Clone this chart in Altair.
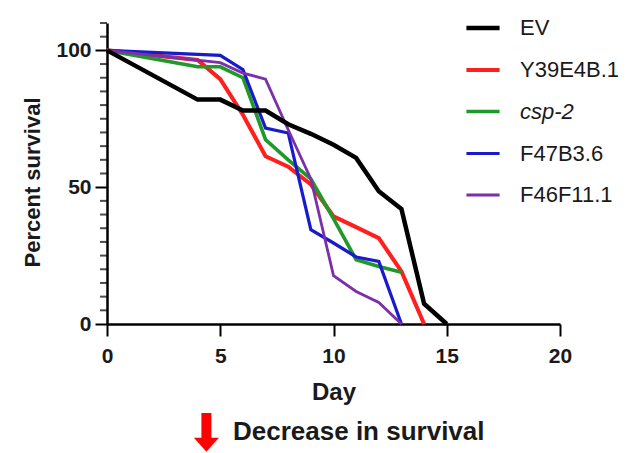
import altair as alt
import pandas as pd

series = ["EV", "Y39E4B.1", "csp-2", "F47B3.6", "F46F11.1"]
colors = ["#000000", "#ff1f1f", "#1f9a2a", "#1a1acd", "#7b2fa8"]
widths = [4.5, 2.8, 2.8, 2.8, 2.8]

ev_days = [0, 4, 5, 6, 7, 8, 9, 10, 11, 12, 13, 14, 15]
ev_vals = [100, 82, 82, 78, 78, 73, 69.5, 65.5, 60.7, 48.5, 42, 7.4, 0]

y39_days = [0, 4, 5, 6, 7, 8, 9, 10, 11, 12, 13, 14]
y39_vals = [100, 96.5, 89.5, 76.5, 61.3, 57.5, 51, 39.3, 35.4, 31.4, 19.2, 0]

csp_days = [0, 4, 5, 6, 7, 8, 9, 10, 11, 12, 13]
csp_vals = [100, 94, 94, 90, 67.4, 60, 53, 38.5, 23.5, 21, 18.9]

f47_days = [0, 5, 6, 7, 8, 9, 10, 11, 12, 13]
f47_vals = [100, 98.2, 93, 71.6, 69.8, 34.5, 29.6, 24.5, 22.9, 0]

f46_days = [0, 5, 6, 7, 8, 9, 10, 11, 12, 13]
f46_vals = [100, 95.5, 91.7, 89.5, 71, 53, 17.7, 11.9, 7.9, 0]

x_ticks = [0, 5, 10, 15, 20]
y_major = [0, 50, 100]
y_minor = [5, 10, 15, 20, 25, 30, 35, 40, 45, 55, 60, 65, 70, 75, 80, 85, 90, 95, 105, 110]

rows = []
for name, days, vals in [
    ("EV", ev_days, ev_vals),
    ("Y39E4B.1", y39_days, y39_vals),
    ("csp-2", csp_days, csp_vals),
    ("F47B3.6", f47_days, f47_vals),
    ("F46F11.1", f46_days, f46_vals),
]:
    for d, v in zip(days, vals):
        rows.append({"series": name, "day": d, "survival": v})
df = pd.DataFrame(rows)

FONT = "Liberation Sans"
TXT = "#1a1a1a"

x_axis = alt.Axis(
    values=x_ticks, grid=False, tickSize=12, tickWidth=2, tickColor="black",
    domainColor="black", domainWidth=2.5, labelFont=FONT, labelFontSize=21,
    labelFontWeight="bold", labelColor=TXT, labelPadding=9, labelFlush=False,
    title="Day", titleFont=FONT, titleFontSize=24, titleFontWeight="bold",
    titleColor=TXT, titleY=68, titleBaseline="middle",
)
y_axis = alt.Axis(
    values=y_major, grid=False, tickSize=12,
    tickWidth=2, tickColor="black", domainColor="black", domainWidth=2.5,
    labelFont=FONT, labelFontSize=21, labelFontWeight="bold", labelColor=TXT,
    labelPadding=4, labelFlush=False,
    title="Percent survival", titleFont=FONT, titleFontSize=22,
    titleFontWeight="bold", titleColor=TXT, titleX=-75, titleY=159,
    titleAngle=-90, titleBaseline="middle", titleAlign="center",
)

legend = alt.Legend(
    orient="none", legendX=357, legendY=-14, title=None, symbolType="stroke",
    symbolSize=1100,
    symbolStrokeWidth={"expr": "datum.label === 'EV' ? 4.5 : 2.8"},
    labelFont=FONT, labelFontSize=22,
    labelFontStyle={"expr": "datum.label === 'csp-2' ? 'italic' : 'normal'"},
    labelColor=TXT, labelOffset=18, rowPadding=12, padding=0,
)

x_enc = alt.X("day:Q", scale=alt.Scale(domain=[0, 20], nice=False), axis=x_axis)
y_scale = alt.Scale(domain=[0, 110], nice=False)

base = alt.Chart(df).mark_line().encode(
    x=x_enc,
    y=alt.Y("survival:Q", scale=y_scale, axis=y_axis),
    color=alt.Color("series:N", scale=alt.Scale(domain=series, range=colors), legend=legend),
    strokeWidth=alt.StrokeWidth("series:N", scale=alt.Scale(domain=series, range=widths), legend=None),
)
others = base.transform_filter("datum.series !== 'EV'")
ev = base.transform_filter("datum.series === 'EV'")

minor = alt.Chart(pd.DataFrame({"survival": y_minor})).mark_tick(
    color="black", thickness=2, size=7, orient="horizontal"
).encode(
    y=alt.Y("survival:Q", scale=y_scale, axis=y_axis),
    x=alt.value(-3.5),
)

note = alt.Chart(pd.DataFrame({"t": ["Decrease in survival"]})).mark_text(
    font=FONT, fontSize=26, fontWeight="bold", color=TXT, align="left", baseline="alphabetic"
).encode(x=alt.value(126), y=alt.value(416.7), text="t:N")

arrow_df = pd.DataFrame({"a": [1]})
shaft = alt.Chart(arrow_df).mark_rule(color="#ff0000", strokeWidth=10).encode(
    x=alt.value(99.4), y=alt.value(390), y2=alt.value(416)
)
head = alt.Chart(arrow_df).mark_point(
    shape="M-1,-0.56L1,-0.56L0,0.56Z", filled=True, color="#ff0000", opacity=1, size=625
).encode(x=alt.value(99.4), y=alt.value(421.7))

chart = alt.layer(others, ev, minor, note, shaft, head).properties(
    width=453, height=301, autosize="none",
    padding={"left": 99, "top": 15, "right": 70, "bottom": 130},
).configure_view(stroke=None)

chart.save("out.html", embed_options={"renderer": "svg", "actions": False})
